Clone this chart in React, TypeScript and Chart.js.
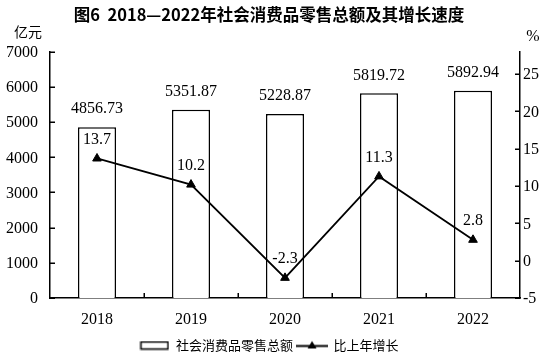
import { useEffect, useRef } from "react";
import { Chart, registerables } from "chart.js";

Chart.register(...registerables);

const years = ["2018", "2019", "2020", "2021", "2022"];
const retailSales = [4856.73, 5351.87, 5228.87, 5819.72, 5892.94];
const growthRates = [13.7, 10.2, -2.3, 11.3, 2.8];
const leftTickValues = [0, 1000, 2000, 3000, 4000, 5000, 6000, 7000];
const rightTickValues = [-5, 0, 5, 10, 15, 20, 25];
const titleText = "图6  2018—2022年社会消费品零售总额及其增长速度";
const salesLabel = "社会消费品零售总额";
const growthLabel = "比上年增长";
const leftUnit = "亿元";
const rightUnit = "%";

const SERIF = "'Liberation Serif', 'Times New Roman', serif";
const CJK = "'Noto Sans CJK SC', 'Noto Sans', sans-serif";

Chart.defaults.font.family = SERIF;
Chart.defaults.color = "#000";

function makeBarIcon() {
  const c = document.createElement("canvas");
  c.width = 30;
  c.height = 10;
  const ctx = c.getContext("2d")!;
  ctx.fillStyle = "#fff";
  ctx.fillRect(1, 1, 28, 8);
  ctx.strokeStyle = "#000";
  ctx.lineWidth = 1.5;
  ctx.strokeRect(1.5, 1.5, 27, 7);
  return c;
}

function makeLineIcon() {
  const c = document.createElement("canvas");
  c.width = 32;
  c.height = 12;
  const ctx = c.getContext("2d")!;
  ctx.strokeStyle = "#000";
  ctx.lineWidth = 2;
  ctx.beginPath();
  ctx.moveTo(0, 6.5);
  ctx.lineTo(32, 6.5);
  ctx.stroke();
  ctx.fillStyle = "#000";
  ctx.beginPath();
  ctx.moveTo(16, 1.5);
  ctx.lineTo(20.5, 9);
  ctx.lineTo(11.5, 9);
  ctx.closePath();
  ctx.fill();
  return c;
}

const decorPlugin = {
  id: "decor",
  afterDraw(chart: any) {
    const ctx = chart.ctx as CanvasRenderingContext2D;
    const area = chart.chartArea;
    const x = chart.scales.x;
    const y = chart.scales.y;
    const y1 = chart.scales.y1;
    ctx.save();
    ctx.strokeStyle = "#000";
    ctx.lineWidth = 1.5;
    ctx.beginPath();
    leftTickValues.forEach((v) => {
      const py = Math.round(y.getPixelForValue(v)) + 0.25;
      ctx.moveTo(area.left, py);
      ctx.lineTo(area.left + 5, py);
    });
    rightTickValues.forEach((v) => {
      const py = Math.round(y1.getPixelForValue(v)) + 0.25;
      ctx.moveTo(area.right - 5, py);
      ctx.lineTo(area.right, py);
    });
    for (let i = 0; i < years.length - 1; i++) {
      const px = Math.round((x.getPixelForTick(i) + x.getPixelForTick(i + 1)) / 2) + 0.25;
      ctx.moveTo(px, area.bottom);
      ctx.lineTo(px, area.bottom - 5);
    }
    ctx.stroke();

    ctx.fillStyle = "#000";
    ctx.textBaseline = "middle";
    ctx.font = `16px ${SERIF}`;
    // axis tick labels, placed through the scales
    ctx.textAlign = "right";
    leftTickValues.forEach((v) => {
      ctx.fillText(String(v), area.left - 12, y.getPixelForValue(v) + 1);
    });
    ctx.textAlign = "left";
    rightTickValues.forEach((v) => {
      ctx.fillText(String(v), area.right + 3, y1.getPixelForValue(v) + 1);
    });

    ctx.textAlign = "center";
    const barMeta = chart.getDatasetMeta(0);
    barMeta.data.forEach((el: any, i: number) => {
      ctx.fillText(retailSales[i].toFixed(2), el.x, el.y - 18);
    });
    const lineMeta = chart.getDatasetMeta(1);
    lineMeta.data.forEach((el: any, i: number) => {
      ctx.fillText(growthRates[i].toFixed(1), el.x, el.y - 19);
    });

    ctx.font = `14px ${CJK}`;
    ctx.fillText(leftUnit, area.left - 22, area.top - 20);
    ctx.font = `16px ${SERIF}`;
    ctx.fillText(rightUnit, area.right + 13, area.top - 15);
    ctx.restore();
  },
};

export default function App() {
  const ref = useRef<HTMLCanvasElement | null>(null);

  useEffect(() => {
    if (!ref.current) return;
    const barIcon = makeBarIcon();
    const lineIcon = makeLineIcon();
    const chart = new Chart(ref.current, {
      type: "bar",
      data: {
        labels: years,
        datasets: [
          {
            type: "bar",
            label: salesLabel,
            data: retailSales,
            yAxisID: "y",
            backgroundColor: "#fff",
            borderColor: "#000",
            borderWidth: 1.5,
            barPercentage: 0.405,
            categoryPercentage: 1,
            order: 2,
          },
          {
            type: "line",
            label: growthLabel,
            data: growthRates,
            yAxisID: "y1",
            borderColor: "#000",
            backgroundColor: "#000",
            borderWidth: 1.8,
            pointStyle: "triangle",
            pointRadius: 5,
            pointBackgroundColor: "#000",
            pointBorderColor: "#000",
            pointBorderWidth: 1,
            tension: 0,
            order: 1,
          },
        ] as any,
      },
      options: {
        responsive: false,
        animation: false,
        events: [],
        font: { family: SERIF },
        layout: { padding: { top: 0, left: 0, right: 12, bottom: 0 } },
        plugins: {
          title: {
            display: true,
            text: titleText,
            color: "#000",
            font: { family: CJK, size: 16.5, weight: "bold" },
            padding: { top: 5, bottom: 27 },
          },
          legend: {
            display: true,
            position: "bottom",
            labels: {
              usePointStyle: true,
              pointStyleWidth: 30,
              padding: 4,
              color: "#000",
              font: { family: CJK, size: 13 },
              generateLabels: () => [
                { text: salesLabel, pointStyle: barIcon, datasetIndex: 0, fillStyle: "#fff", strokeStyle: "#000", lineWidth: 0, hidden: false, fontColor: "#000" } as any,
                { text: growthLabel, pointStyle: lineIcon, datasetIndex: 1, fillStyle: "#000", strokeStyle: "#000", lineWidth: 0, hidden: false, fontColor: "#000" } as any,
              ],
            },
          },
          tooltip: { enabled: false },
        },
        scales: {
          x: {
            offset: true,
            grid: { display: false, drawTicks: false },
            border: { display: true, color: "#000", width: 1.5 },
            ticks: { color: "#000", font: { family: SERIF, size: 16 }, padding: 12 },
            afterFit: (s: any) => {
              s.height = 37;
            },
          },
          y: {
            position: "left",
            min: 0,
            max: 7000,
            grid: { display: false, drawTicks: false },
            border: { display: true, color: "#000", width: 1.5 },
            ticks: { display: false, stepSize: 1000 },
            afterFit: (s: any) => {
              s.width = 50;
            },
          },
          y1: {
            position: "right",
            min: -5,
            max: 28,
            grid: { display: false, drawTicks: false },
            border: { display: true, color: "#000", width: 1.5 },
            ticks: { display: false, stepSize: 5 },
            afterFit: (s: any) => {
              s.width = 18;
            },
          },
        },
      } as any,
      plugins: [decorPlugin],
    });
    return () => chart.destroy();
  }, []);

  return (
    <div style={{ position: "fixed", left: 0, top: 0, width: 550, height: 362, background: "#fff" }}>
      <canvas ref={ref} width={550} height={362} />
    </div>
  );
}
